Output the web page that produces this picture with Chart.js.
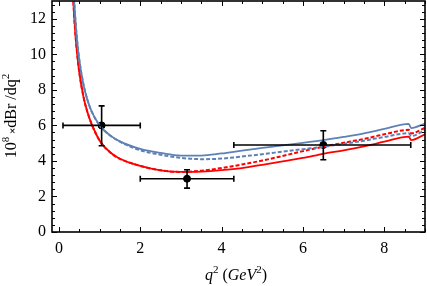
<!DOCTYPE html>
<html>
<head>
<meta charset="utf-8">
<script src="https://cdn.jsdelivr.net/npm/chart.js@4.4.1/dist/chart.umd.min.js"></script>
<style>
  html, body { margin: 0; padding: 0; background: #fff; }
  #wrap { width: 427px; height: 286px; }
</style>
</head>
<body>
<div id="wrap"><canvas id="chart_dBr"></canvas></div>
<script>
// q^2 grid (GeV^2) shared by the four curves
const q2 = [0.3, 0.35, 0.4, 0.45, 0.5, 0.6, 0.7, 0.8, 1.0, 1.25, 1.5, 2, 2.5, 3, 3.5, 4, 4.5, 5, 5.5, 6, 6.5, 7, 7.5, 8, 8.6, 8.66, 9];

const blueSolid  = [17.2, 14.1, 12.1, 10.7, 9.7, 8.34, 7.44, 6.81, 6.0, 5.45, 5.1, 4.68, 4.45, 4.3, 4.3, 4.42, 4.58, 4.73, 4.88, 5.02, 5.17, 5.35, 5.55, 5.8, 6.08, 5.85, 6.1];
const blueDashed = [17.2, 14.1, 12.1, 10.7, 9.7, 8.34, 7.44, 6.81, 6.0, 5.45, 5.08, 4.6, 4.35, 4.17, 4.1, 4.13, 4.25, 4.38, 4.52, 4.66, 4.8, 4.96, 5.14, 5.35, 5.56, 5.4, 5.72];
const redSolid   = [16.0, 13.2, 11.3, 10.0, 9.0, 7.65, 6.75, 6.1, 5.15, 4.5, 4.12, 3.72, 3.47, 3.38, 3.4, 3.48, 3.6, 3.78, 3.97, 4.17, 4.4, 4.6, 4.82, 5.08, 5.37, 5.17, 5.5];
const redDashed  = [16.0, 13.2, 11.3, 10.0, 9.0, 7.65, 6.75, 6.1, 5.15, 4.5, 4.12, 3.72, 3.47, 3.38, 3.45, 3.6, 3.8, 4.02, 4.28, 4.55, 4.8, 5.02, 5.24, 5.5, 5.75, 5.55, 5.86];

// measured points with error bars
const dataX     = [1.05, 3.15, 6.5];
const dataY     = [6.0, 3.0, 4.9];
const errXLow   = [0.1, 2.0, 4.3];
const errXHigh  = [2.0, 4.3, 8.65];
const errYLow   = [4.85, 2.47, 4.07];
const errYHigh  = [7.1, 3.5, 5.7];

const xTicks = [0, 2, 4, 6, 8];
const yTicks = [0, 2, 4, 6, 8, 10, 12];

const BLUE = 'rgb(94,129,181)';
const RED = 'rgb(255,0,0)';
const SERIF = '"Liberation Serif", "DejaVu Serif", serif';

function toPoints(ys) {
  return q2.map((x, i) => ({ x: x, y: ys[i] }));
}

function curve(label, ys, color, dashed) {
  return {
    label: label,
    data: toPoints(ys),
    showLine: true,
    borderColor: color,
    borderWidth: dashed ? 2 : 1.8,
    borderDash: dashed ? [4, 2] : [],
    pointRadius: 0,
    fill: false,
    cubicInterpolationMode: 'monotone'
  };
}

// error bars drawn through the chart's own scales
const errorBars = {
  id: 'errorBars',
  afterDatasetsDraw(chart) {
    const { ctx, scales: { x, y } } = chart;
    ctx.save();
    ctx.strokeStyle = '#000';
    ctx.lineWidth = 1.6;
    const cap = 3;
    for (let i = 0; i < dataX.length; i++) {
      const px = x.getPixelForValue(dataX[i]);
      const py = y.getPixelForValue(dataY[i]);
      const x0 = x.getPixelForValue(errXLow[i]);
      const x1 = x.getPixelForValue(errXHigh[i]);
      const y0 = y.getPixelForValue(errYLow[i]);
      const y1 = y.getPixelForValue(errYHigh[i]);
      ctx.beginPath();
      ctx.moveTo(x0, py); ctx.lineTo(x1, py);
      ctx.moveTo(x0, py - cap); ctx.lineTo(x0, py + cap);
      ctx.moveTo(x1, py - cap); ctx.lineTo(x1, py + cap);
      ctx.moveTo(px, y0); ctx.lineTo(px, y1);
      ctx.moveTo(px - cap, y0); ctx.lineTo(px + cap, y0);
      ctx.moveTo(px - cap, y1); ctx.lineTo(px + cap, y1);
      ctx.stroke();
    }
    ctx.restore();
  }
};

// Mathematica style frame with inward ticks on all four sides
const frame = {
  id: 'frame',
  afterDraw(chart) {
    const { ctx, chartArea: a, scales: { x, y } } = chart;
    ctx.save();
    ctx.strokeStyle = '#000';
    ctx.lineWidth = 1;
    ctx.beginPath();
    for (let v = 0; v <= 9.001; v += 0.5) {
      const px = Math.round(x.getPixelForValue(v)) + 0.5;
      const len = Math.abs(v % 2) < 1e-6 ? 5 : 3;
      ctx.moveTo(px, a.bottom); ctx.lineTo(px, a.bottom - len);
      ctx.moveTo(px, a.top); ctx.lineTo(px, a.top + len);
    }
    for (let v = 0; v <= 13.001; v += 0.4) {
      const py = Math.round(y.getPixelForValue(v)) + 0.5;
      const major = Math.abs(v / 2 - Math.round(v / 2)) < 1e-6;
      const len = major ? 5 : 3;
      ctx.moveTo(a.left, py); ctx.lineTo(a.left + len, py);
      ctx.moveTo(a.right, py); ctx.lineTo(a.right - len, py);
    }
    ctx.stroke();
    ctx.lineWidth = 1.6;
    ctx.strokeRect(a.left, a.top, a.right - a.left, a.bottom - a.top);

    // axis titles with super scripts
    ctx.fillStyle = '#000';
    ctx.textBaseline = 'alphabetic';
    const xParts = [
      { t: 'q', f: 'italic 16px ' + SERIF, dy: 0 },
      { t: '2', f: '11px ' + SERIF, dy: -7 },
      { t: ' (', f: '16px ' + SERIF, dy: 0 },
      { t: 'GeV', f: 'italic 16px ' + SERIF, dy: 0 },
      { t: '2', f: '11px ' + SERIF, dy: -7 },
      { t: ')', f: '16px ' + SERIF, dy: 0 }
    ];
    drawParts(ctx, xParts, 236, 280, 0);

    const yParts = [
      { t: '10', f: '16px ' + SERIF, dy: 0 },
      { t: '8', f: '11px ' + SERIF, dy: -7 },
      { t: ' ×', f: 'bold 11px ' + SERIF, dy: 0 },
      { t: 'dBr /dq', f: '16px ' + SERIF, dy: 0 },
      { t: '2', f: '11px ' + SERIF, dy: -7 }
    ];
    drawParts(ctx, yParts, 16, 116, -Math.PI / 2);
    ctx.restore();
  }
};

function drawParts(ctx, parts, cx, cy, rot) {
  let total = 0;
  parts.forEach(p => { ctx.font = p.f; p.w = ctx.measureText(p.t).width; total += p.w; });
  ctx.save();
  ctx.translate(cx, cy);
  ctx.rotate(rot);
  let pos = -total / 2;
  parts.forEach(p => {
    ctx.font = p.f;
    ctx.fillText(p.t, pos, p.dy);
    pos += p.w;
  });
  ctx.restore();
}

const ctx = document.getElementById('chart_dBr');

new Chart(ctx, {
  type: 'scatter',
  data: {
    datasets: [
      curve('blue dashed', blueDashed, BLUE, true),
      curve('blue', blueSolid, BLUE, false),
      curve('red dashed', redDashed, RED, true),
      curve('red', redSolid, RED, false),
      {
        label: 'data',
        data: dataX.map((v, i) => ({ x: v, y: dataY[i] })),
        pointRadius: 3.5,
        pointBackgroundColor: '#000',
        pointBorderColor: '#000',
        showLine: false
      }
    ]
  },
  options: {
    responsive: true,
    maintainAspectRatio: false,
    animation: false,
    layout: { autoPadding: false, padding: { top: 1, right: 2, left: 0, bottom: 0 } },
    scales: {
      x: {
        type: 'linear',
        min: -0.17,
        max: 9,
        afterBuildTicks: scale => { scale.ticks = xTicks.map(v => ({ value: v })); },
        afterFit: scale => {
          scale.height = 54;
          scale.paddingLeft = 0;
          scale.paddingRight = 0;
        },
        grid: { display: false, drawTicks: false },
        border: { display: false },
        ticks: {
          padding: 7,
          color: '#000',
          font: { family: SERIF, size: 16 }
        }
      },
      y: {
        type: 'linear',
        min: 0,
        max: 13,
        afterBuildTicks: scale => { scale.ticks = yTicks.map(v => ({ value: v })); },
        afterFit: scale => {
          scale.width = 52;
          scale.paddingTop = 0;
          scale.paddingBottom = 0;
        },
        grid: { display: false, drawTicks: false },
        border: { display: false },
        ticks: {
          padding: 6,
          color: '#000',
          font: { family: SERIF, size: 16 }
        }
      }
    },
    plugins: {
      legend: { display: false },
      tooltip: { enabled: false }
    }
  },
  plugins: [errorBars, frame]
});
</script>
</body>
</html>
